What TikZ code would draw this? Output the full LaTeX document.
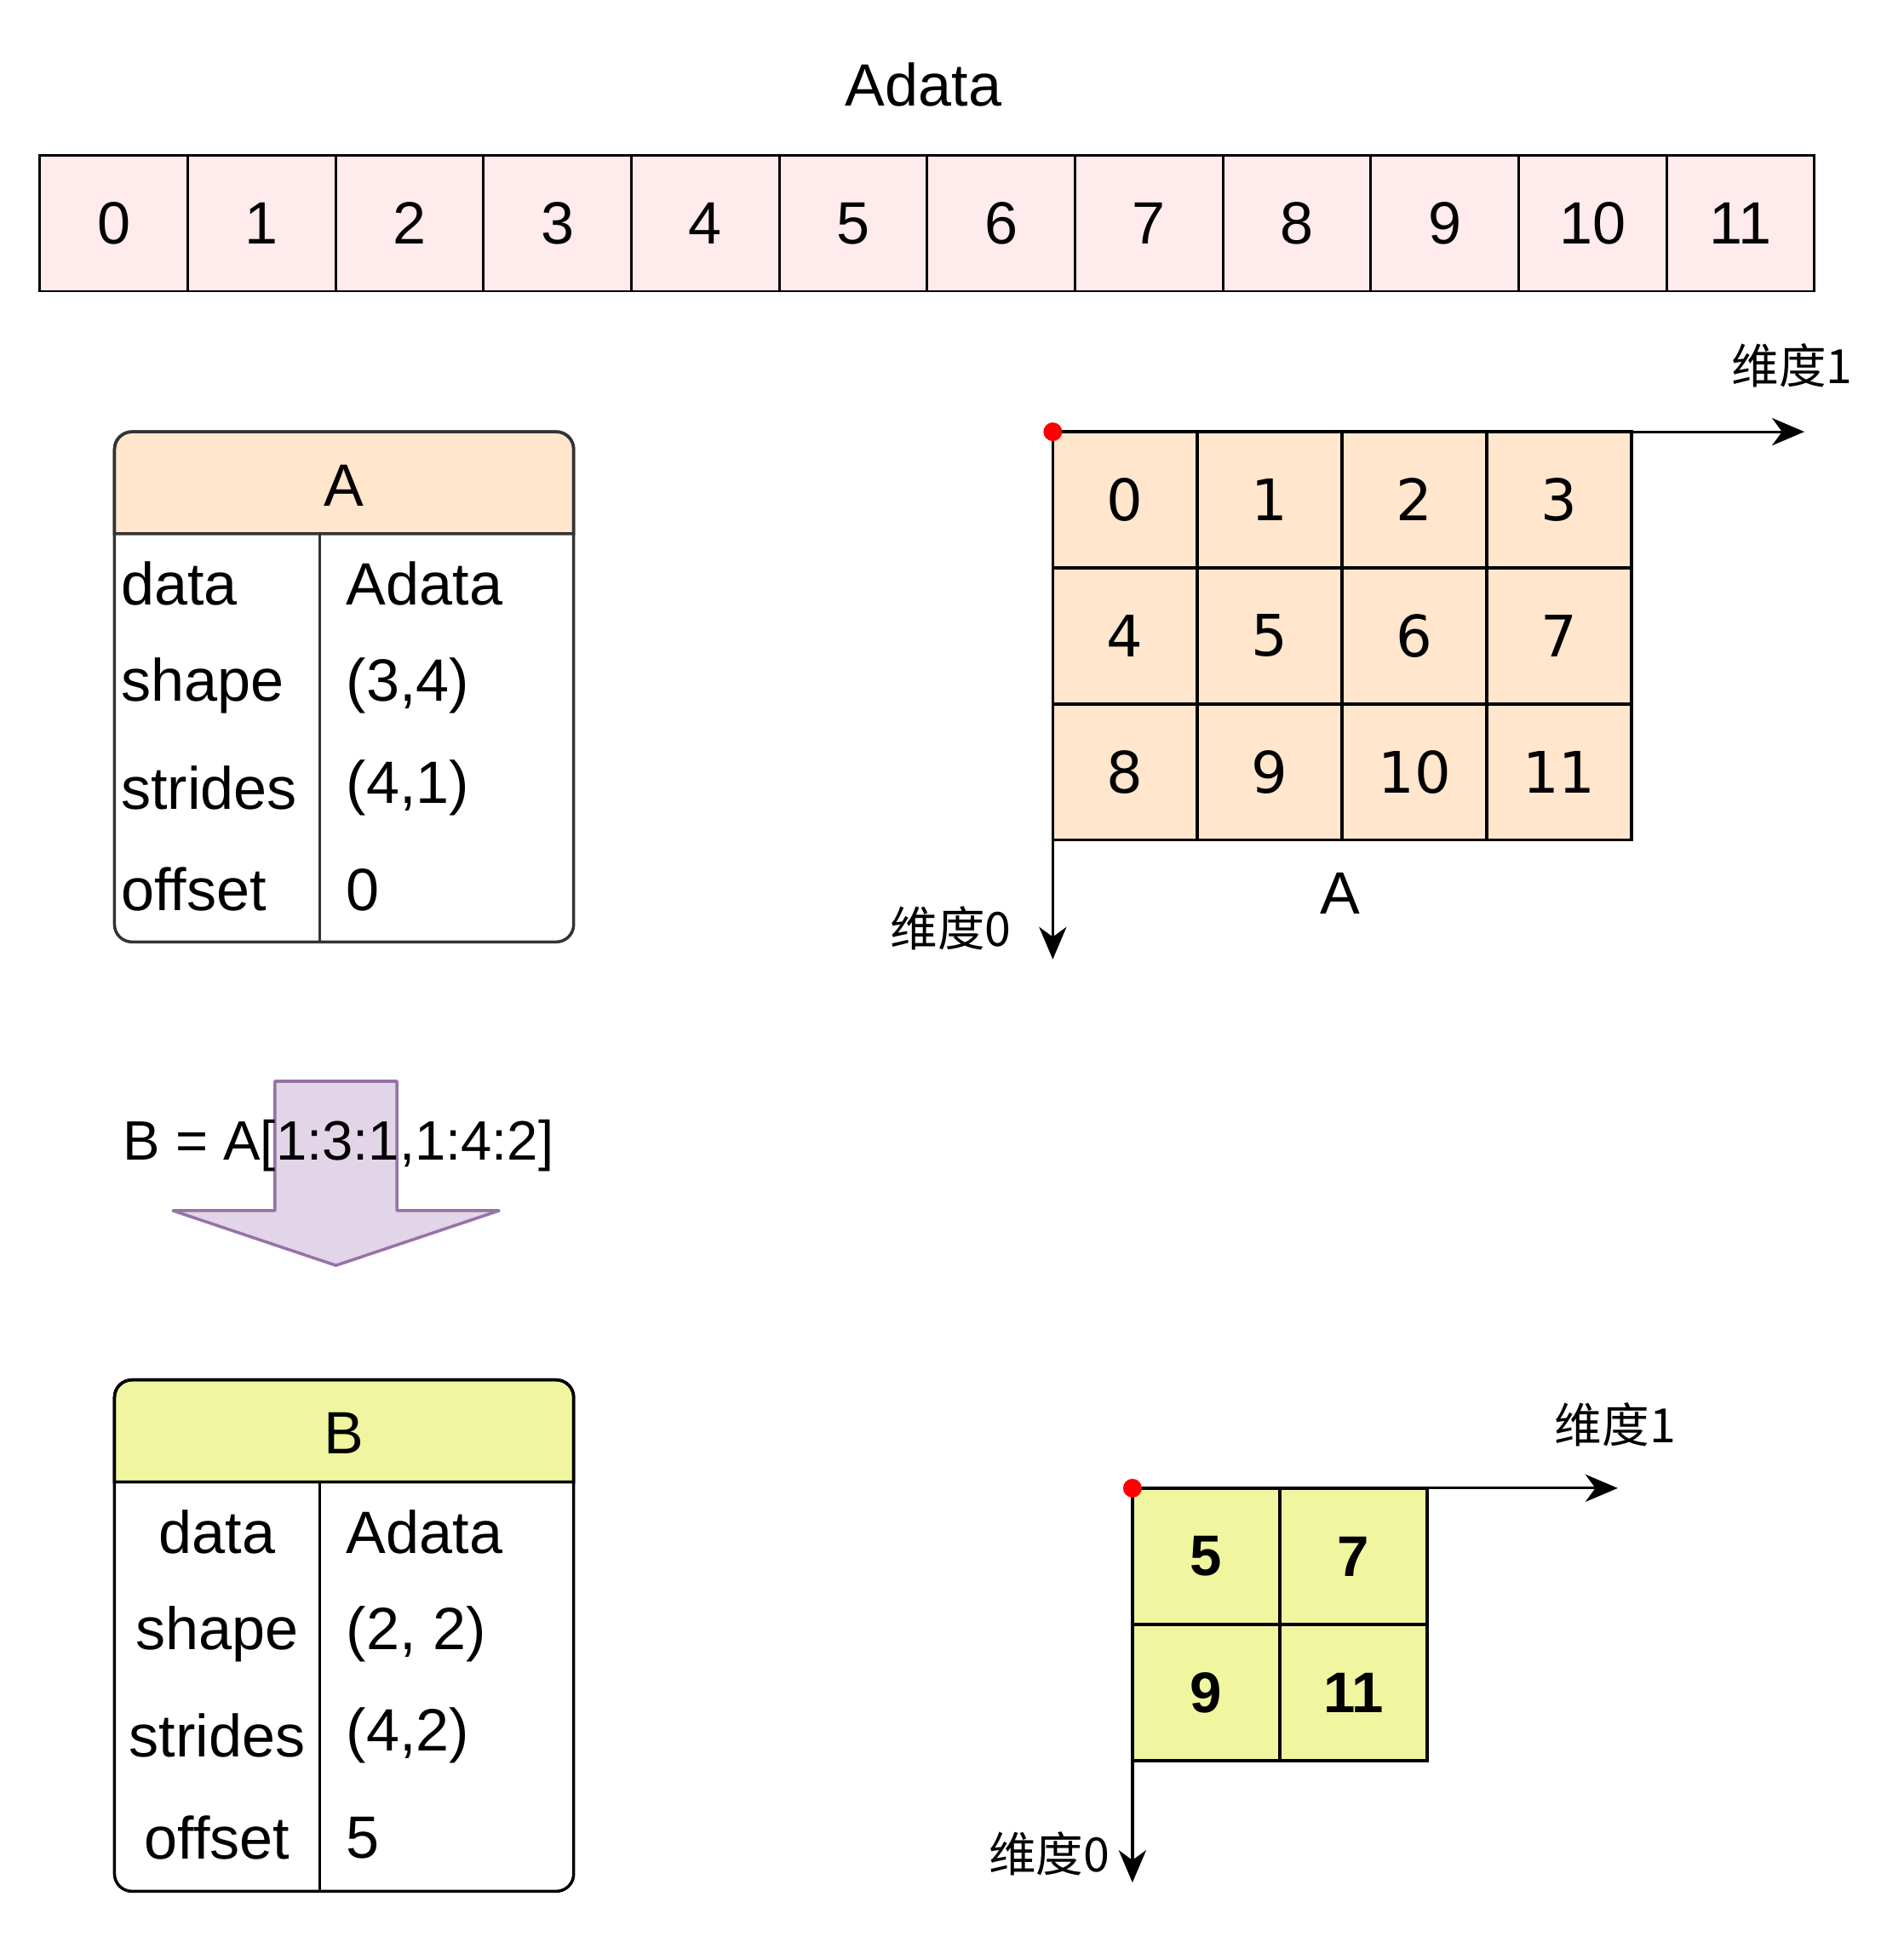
\documentclass[tikz,border=0pt]{standalone}
\usepackage{fontspec}
\setmainfont{Liberation Sans}
\newfontfamily\cjk{Noto Sans CJK SC}
\newfontfamily\dvs{DejaVu Sans}
\usepackage{tikz}
\usetikzlibrary{calc,arrows.meta}
\definecolor{barpink}{HTML}{FFEAEC}
\definecolor{peach}{HTML}{FFE6CC}
\definecolor{lime}{HTML}{F0F6A0}
\definecolor{lilac}{HTML}{E1D5E7}
\definecolor{lilacline}{HTML}{9673A6}
\definecolor{darkline}{HTML}{333333}

\begin{document}
\begin{tikzpicture}[x=0.5pt,y=-0.5pt,
    big/.style={font=\fontsize{24}{26}\selectfont},
    barcell/.style={draw, fill=barpink, line width=1pt, inner sep=0pt,
      minimum width=59.4pt, minimum height=54.5pt, big},
    gridA/.style={draw, fill=peach, line width=1.3pt, inner sep=0pt,
      minimum width=58.1pt, minimum height=54.7pt, font=\dvs\fontsize{23}{25}\selectfont},
    gridB/.style={draw, fill=lime, line width=1.3pt, inner sep=0pt,
      minimum width=59.2pt, minimum height=54.7pt, font=\bfseries\fontsize{23}{25}\selectfont},
    dimlabel/.style={font=\cjk\fontsize{19}{21}\selectfont},
    axis/.style={line width=1.1pt, -{Stealth[length=13pt,width=11pt,inset=4pt]}},
    reddot/.style={circle, fill=red, inner sep=0pt, minimum size=7.5pt},
    field/.style={big, anchor=west, inner sep=0pt}]
  \useasboundingbox (0,0) rectangle (1530,1565.6);

  % Adata buffer
  \node[big] (title) at (742,68) {Adata};
  \foreach \i in {0,...,11}
    \node[barcell] (d\i) at ({32+118.83*(\i+0.5)},179.5) {\i};

  % table A
  \draw[fill=peach, draw=darkline, line width=1.2pt] (92,429)
    {[rounded corners=7pt] -- (92,347) -- (461,347)} -- (461,429) -- cycle;
  \draw[darkline, line width=1.2pt, rounded corners=7pt] (92,347) rectangle (461,757);
  \draw[darkline, line width=1.2pt] (257,429) -- (257,757);
  \node[big] (hA) at (276.5,390) {A};
  \node[field] (kA1) at (97,469) {data};
  \node[field] (kA2) at (97,551) {shape};
  \node[field] (kA3) at (97,633) {strides};
  \node[field] (kA4) at (97,715) {offset};
  \node[field] (vA1) at (278,469) {Adata};
  \node[field] (vA2) at (278,551) {(3,4)};
  \node[field] (vA3) at (278,633) {(4,1)};
  \node[field] (vA4) at (278,715) {0};

  % grid A
  \foreach \r in {0,1,2}
    \foreach \c in {0,...,3} {
      \pgfmathtruncatemacro\v{4*\r+\c}
      \node[gridA] (a\r\c) at ({846+116.25*(\c+0.5)},{347+109.33*(\r+0.5)}) {\v};
    }
  \coordinate (oA) at (846,347);
  \coordinate (xA) at (1450,347);
  \coordinate (yA) at (846,771);
  \draw[axis] (oA) -- (xA);
  \draw[axis] (oA) -- (yA);
  \node[reddot] (dotA) at (oA) {};
  \node[dimlabel] (lA1) at (1440,294) {维度1};
  \node[dimlabel] (lA0) at (764,746) {维度0};
  \node[big] (nA) at (1077,718) {A};

  % slicing arrow
  \draw[fill=lilac, draw=lilacline, line width=1.2pt, line join=round]
    (221,869) -- (319,869) -- (319,973) -- (401,973) -- (270,1017)
    -- (139,973) -- (221,973) -- cycle;
  \node[font=\fontsize{22.3}{24}\selectfont] (op) at (272,921) {B = A[1:3:1,1:4:2]};

  % table B
  \draw[fill=lime, line width=1.2pt] (92,1191)
    {[rounded corners=7pt] -- (92,1109) -- (461,1109)} -- (461,1191) -- cycle;
  \draw[line width=1.2pt, rounded corners=7pt] (92,1109) rectangle (461,1520);
  \draw[line width=1.2pt] (257,1191) -- (257,1520);
  \node[big] (hB) at (276.5,1152) {B};
  \node[big] (kB1) at (174.5,1231) {data};
  \node[big] (kB2) at (174.5,1313) {shape};
  \node[big] (kB3) at (174.5,1395) {strides};
  \node[big] (kB4) at (174.5,1477) {offset};
  \node[field] (vB1) at (278,1231) {Adata};
  \node[field] (vB2) at (278,1313) {(2, 2)};
  \node[field] (vB3) at (278,1395) {(4,2)};
  \node[field] (vB4) at (278,1477) {5};

  % grid B
  \foreach \r in {0,1}
    \foreach \c in {0,1} {
      \pgfmathtruncatemacro\v{5+4*\r+2*\c}
      \node[gridB] (b\r\c) at ({910+118.5*(\c+0.5)},{1196+109.5*(\r+0.5)}) {\v};
    }
  \coordinate (oB) at (910,1196);
  \coordinate (xB) at (1300,1196);
  \coordinate (yB) at (910,1513);
  \draw[axis] (oB) -- (xB);
  \draw[axis] (oB) -- (yB);
  \node[reddot] (dotB) at (oB) {};
  \node[dimlabel] (lB1) at (1298,1145) {维度1};
  \node[dimlabel] (lB0) at (843,1490) {维度0};
\end{tikzpicture}
\end{document}
